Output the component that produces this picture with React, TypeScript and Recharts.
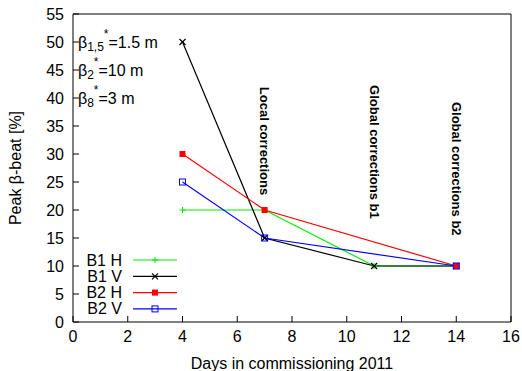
import { LineChart, Line, XAxis, YAxis, ReferenceDot } from "recharts";

const xTicks = [0, 2, 4, 6, 8, 10, 12, 14, 16];
const yTicks = [0, 5, 10, 15, 20, 25, 30, 35, 40, 45, 50, 55];

const b1h = [
  { day: 4, beat: 20 },
  { day: 7, beat: 20 },
  { day: 11, beat: 10 },
  { day: 14, beat: 10 },
];
const b1v = [
  { day: 4, beat: 50 },
  { day: 7, beat: 15 },
  { day: 11, beat: 10 },
  { day: 14, beat: 10 },
];
const b2h = [
  { day: 4, beat: 30 },
  { day: 7, beat: 20 },
  { day: 14, beat: 10 },
];
const b2v = [
  { day: 4, beat: 25 },
  { day: 7, beat: 15 },
  { day: 14, beat: 10 },
];

// vertical annotations (x = day, y = where the text starts)
const notes = [
  { day: 7, beat: 42, text: "Local corrections" },
  { day: 11, beat: 42.3, text: "Global corrections b1" },
  { day: 14, beat: 39.3, text: "Global corrections b2" },
];

// beta* settings, written in the top left
const betas = [
  { day: 0.18, beat: 50, sub: "1,5", val: "=1.5 m" },
  { day: 0.18, beat: 45, sub: "2", val: "=10 m" },
  { day: 0.18, beat: 40, sub: "8", val: "=3 m" },
];

const FONT = "'Liberation Sans', Arial, sans-serif";
const FS = 16;
const GREEN = "#00ee00";
const RED = "#ff0000";
const BLUE = "#0000ff";
const BLACK = "#000000";

type Shape = "plus" | "cross" | "fsquare" | "osquare";

function Marker({ cx, cy, kind, color }: { cx: number; cy: number; kind: Shape; color: string }) {
  if (cx == null || cy == null) return null;
  const s = 3;
  if (kind === "plus")
    return (
      <g stroke={color} strokeWidth={1}>
        <line x1={cx - s} y1={cy} x2={cx + s} y2={cy} />
        <line x1={cx} y1={cy - s} x2={cx} y2={cy + s} />
      </g>
    );
  if (kind === "cross")
    return (
      <g stroke={color} strokeWidth={1.2}>
        <line x1={cx - s} y1={cy - s} x2={cx + s} y2={cy + s} />
        <line x1={cx - s} y1={cy + s} x2={cx + s} y2={cy - s} />
      </g>
    );
  if (kind === "fsquare")
    return <rect x={cx - s} y={cy - s} width={2 * s} height={2 * s} fill={color} />;
  return (
    <rect x={cx - s} y={cy - s} width={2 * s} height={2 * s} fill="none" stroke={color} strokeWidth={1} />
  );
}

const series: { name: string; data: { day: number; beat: number }[]; color: string; kind: Shape }[] = [
  { name: "B1 H", data: b1h, color: GREEN, kind: "plus" },
  { name: "B1 V", data: b1v, color: BLACK, kind: "cross" },
  { name: "B2 H", data: b2h, color: RED, kind: "fsquare" },
  { name: "B2 V", data: b2v, color: BLUE, kind: "osquare" },
];

function KeyBox() {
  return (
    <svg width={120} height={70} style={{ position: "absolute", left: 65, top: 252 }}>
      {series.map((s, i) => {
        const y = 8 + i * 16.3;
        return (
          <g key={s.name}>
            <text x={57} y={y} textAnchor="end" dominantBaseline="central" fontFamily={FONT} fontSize={FS}>
              {s.name}
            </text>
            <line x1={68} y1={y} x2={112} y2={y} stroke={s.color} strokeWidth={1.2} />
            <Marker cx={90} cy={y} kind={s.kind} color={s.color} />
          </g>
        );
      })}
    </svg>
  );
}

const noLabel = () => <g />;

export default function App() {
  return (
    <div style={{ position: "absolute", left: 0, top: 0, width: 522, height: 371, background: "#fff" }}>
      <LineChart width={522} height={371} margin={{ top: 13, right: 10, bottom: 0, left: 0 }}>
        <XAxis
          xAxisId="b"
          type="number"
          dataKey="day"
          domain={[0, 16]}
          ticks={xTicks}
          interval={0}
          height={49}
          tickSize={-6}
          tickMargin={15}
          stroke={BLACK}
          tick={{ fill: "#000", fontSize: FS, fontFamily: FONT }}
          label={({ viewBox }: any) => (
            <text
              x={viewBox.x + viewBox.width / 2}
              y={363}
              textAnchor="middle"
              dominantBaseline="central"
              fontFamily={FONT}
              fontSize={FS}
            >
              Days in commissioning 2011
            </text>
          )}
        />
        <XAxis
          xAxisId="t"
          orientation="top"
          type="number"
          dataKey="day"
          domain={[0, 16]}
          ticks={xTicks}
          interval={0}
          height={1}
          tickSize={-6}
          stroke={BLACK}
          tick={noLabel}
        />
        <YAxis
          yAxisId="l"
          type="number"
          domain={[0, 55]}
          ticks={yTicks}
          interval={0}
          width={73}
          tickSize={-6}
          tickMargin={15}
          stroke={BLACK}
          tick={{ fill: "#000", fontSize: FS, fontFamily: FONT }}
          label={({ viewBox }: any) => (
            <text
              x={15}
              y={viewBox.y + viewBox.height / 2}
              transform={`rotate(-90 15 ${viewBox.y + viewBox.height / 2})`}
              textAnchor="middle"
              dominantBaseline="central"
              fontFamily={FONT}
              fontSize={FS}
            >
              Peak β-beat [%]
            </text>
          )}
        />
        <YAxis
          yAxisId="r"
          orientation="right"
          type="number"
          domain={[0, 55]}
          ticks={yTicks}
          interval={0}
          width={1}
          tickSize={-6}
          stroke={BLACK}
          tick={noLabel}
        />
        {series.map((s) => (
          <Line
            key={s.name}
            xAxisId="b"
            yAxisId="l"
            data={s.data}
            dataKey="beat"
            name={s.name}
            type="linear"
            stroke={s.color}
            strokeWidth={1.2}
            isAnimationActive={false}
            dot={(p: any) => <Marker key={`${s.name}-${p.index}`} cx={p.cx} cy={p.cy} kind={s.kind} color={s.color} />}
            activeDot={false}
          />
        ))}
        {notes.map((n) => (
          <ReferenceDot
            key={n.text}
            xAxisId="b"
            yAxisId="l"
            x={n.day}
            y={n.beat}
            r={0}
            shape={(p: any) => (
              <text
                x={p.cx}
                y={p.cy}
                transform={`rotate(90 ${p.cx} ${p.cy})`}
                textAnchor="start"
                dominantBaseline="central"
                fontFamily={FONT}
                fontWeight="bold"
                fontSize={13}
              >
                {n.text}
              </text>
            )}
          />
        ))}
        {betas.map((b) => (
          <ReferenceDot
            key={b.sub}
            xAxisId="b"
            yAxisId="l"
            x={b.day}
            y={b.beat}
            r={0}
            shape={(p: any) => (
              <text x={p.cx} y={p.cy} dominantBaseline="central" fontFamily={FONT} fontSize={FS}>
                β<tspan dy={5} fontSize={12}>{b.sub}</tspan>
                <tspan dy={-13} fontSize={12}>*</tspan>
                <tspan dy={8}>{b.val}</tspan>
              </text>
            )}
          />
        ))}
      </LineChart>
      <KeyBox />
    </div>
  );
}
